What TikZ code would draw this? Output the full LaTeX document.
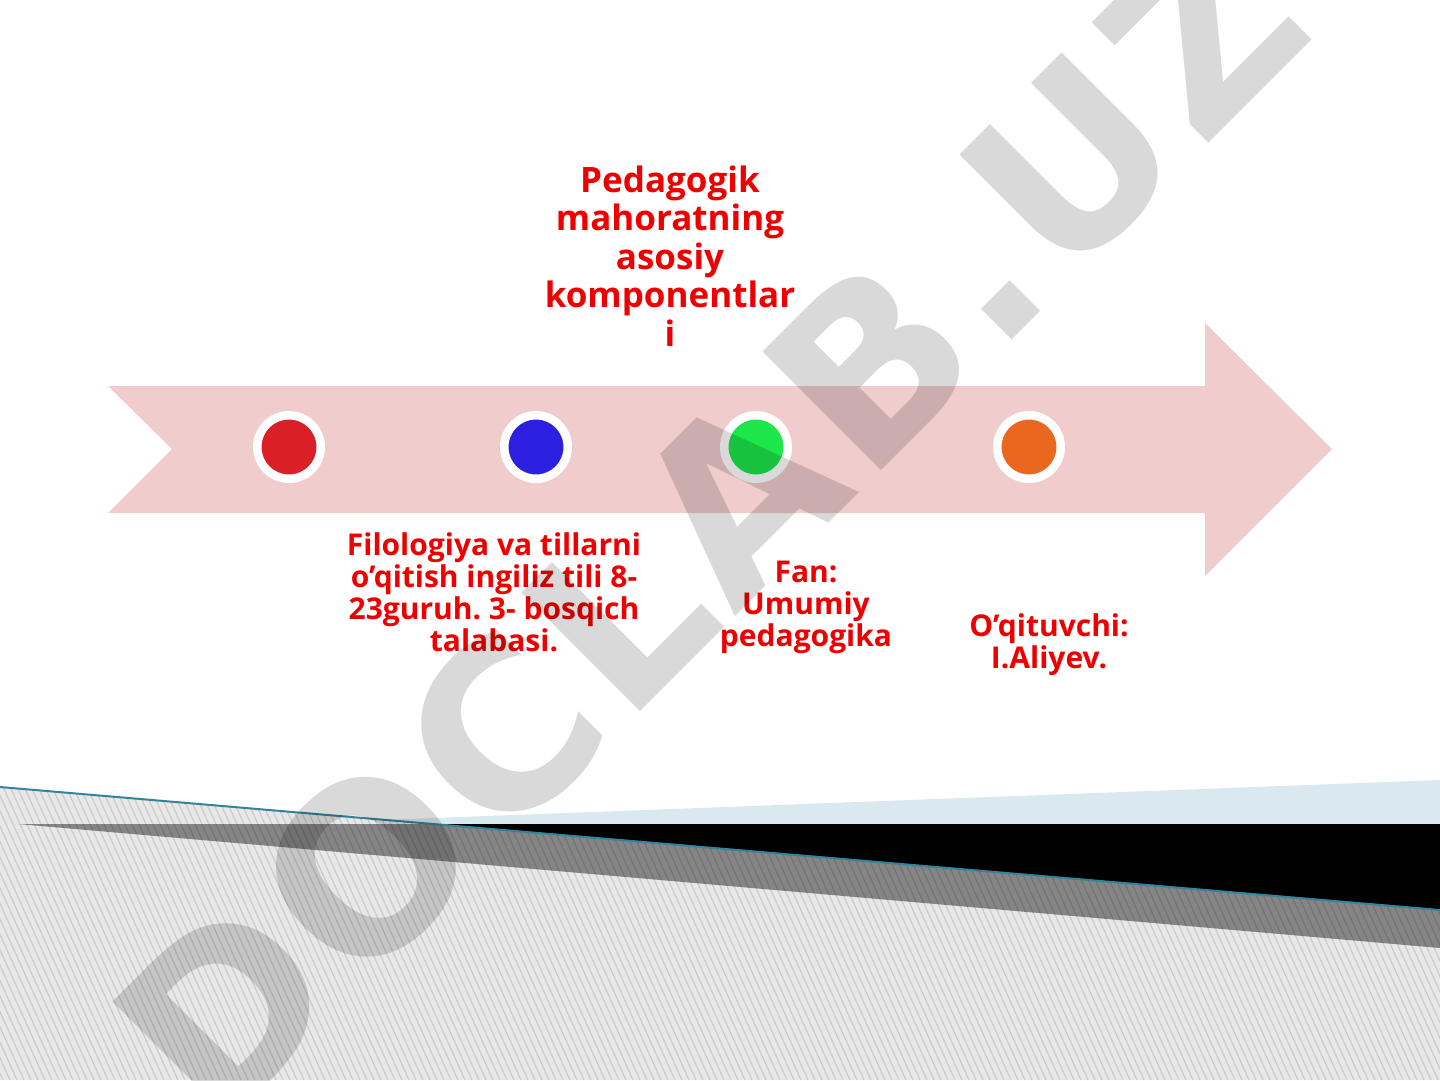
\documentclass[tikz,border=0pt]{standalone}
\usepackage{fontspec}
\setmainfont{Open Sans}
\newfontfamily\wmfont{DejaVu Sans}
\usetikzlibrary{positioning}
\definecolor{band}{HTML}{F0CCCD}
\definecolor{dotred}{HTML}{DA1F26}
\definecolor{dotblue}{HTML}{2D1FE0}
\definecolor{dotgreen}{HTML}{1CE64A}
\definecolor{dotorange}{HTML}{EA6720}
\definecolor{txtred}{HTML}{EE0000}
\definecolor{tealline}{HTML}{31849B}
\definecolor{paleblue}{HTML}{DAE9EF}
\definecolor{lightstripe}{HTML}{E8E8E8}
\definecolor{darkstripe}{HTML}{858585}

\tikzset{
  dot/.style={circle, draw=white, line width=8.5pt, minimum size=63.5pt},
  txt/.style={align=center, text=txtred, font=\frenchspacing\bfseries\fontsize{30}{32}\selectfont}
}

\begin{document}
\begin{tikzpicture}[x=1pt, y=-1pt, every node/.style={inner sep=0pt}]
  \path[use as bounding box, clip] (0,0) rectangle (1440,1080);
  \fill[paleblue] (380,820) -- (1440,780) -- (1440,824) -- (433,824) -- cycle;
  \fill[black] (433,824) -- (1440,824) -- (1440,911) -- cycle;
  \begin{scope}
    \clip (0,787) -- (1440,910) -- (1440,1080) -- (0,1080) -- cycle;
    \fill[lightstripe] (0,780) rectangle (1440,1080);
    \fill[darkstripe] (18,824) -- (1440,824) -- (1440,948) -- cycle;
    \foreach \s in {-140,-133,...,1440}
      \draw[black, opacity=0.12, line width=1.3pt] (\s,780) -- ++(136,300);
  \end{scope}
  \draw[tealline, line width=2pt] (0,787) -- (1440,910);

  \fill[band] (108,386) -- (1205,386) -- (1205,323) -- (1332,449) -- (1205,576)
    -- (1205,513) -- (108,513) -- (172,449) -- cycle;

  \node[dot, fill=dotred] (d1) at (289,447) {};
  \node[dot, fill=dotblue] (d2) at (536,447) {};
  \node[dot, fill=dotgreen] (d3) at (756,447) {};
  \node[dot, fill=dotorange] (d4) at (1029,447) {};

  \node[txt, font=\bfseries\fontsize{35}{38.5}\selectfont, anchor=base] (title) at (670,346)
    {Pedagogik\\mahoratning\\asosiy\\komponentlar\\i};
  \node[txt, anchor=base] (student) at (494,651)
    {Filologiya va tillarni\\o’qitish ingiliz tili 8-\\23guruh. 3- bosqich\\talabasi.};
  \node[txt, anchor=base] (subject) at (806,646) {Fan:\\Umumiy\\pedagogika};
  \node[txt, anchor=base] (teacher) at (1049,668) {O’qituvchi:\\I.Aliyev.};

  \node[font=\wmfont\bfseries\fontsize{230}{230}\selectfont, text=black, text opacity=0.15,
    rotate=45, anchor=base west] (mark) at (216,1136)
    {D\kern8pt O\kern8pt C\kern8pt L\kern8pt A\kern8pt B\kern8pt .\kern8pt U\kern8pt Z};
\end{tikzpicture}
\end{document}
